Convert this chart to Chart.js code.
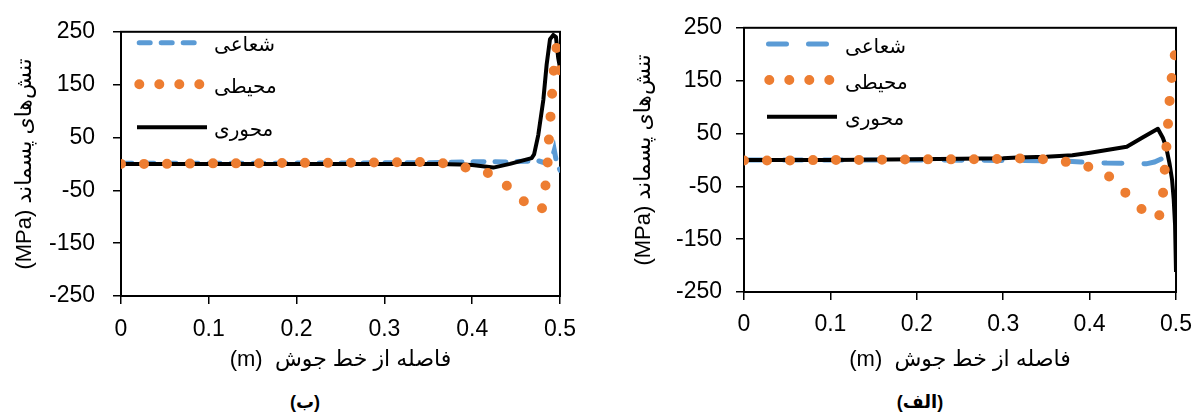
<!DOCTYPE html>
<html><head>
<meta charset="UTF-8">
<title>Residual stress</title>
<script src="https://cdn.jsdelivr.net/npm/chart.js"></script>
<style>
    body { margin: 0; background: #fff; font-family: "Liberation Sans", "DejaVu Sans", sans-serif; }
    #wrap { position: relative; width: 1203px; height: 415px; }
    canvas { position: absolute; top: 0; }
    .caption { position: absolute; top: 391px; width: 100px; text-align: center; font-weight: bold; font-size: 18px; color: #000; }
</style>
</head>
<body>
<div id="wrap">
    <canvas id="chartB" width="600" height="373" style="left:0"></canvas>
    <canvas id="chartA" width="603" height="373" style="left:600px"></canvas>
    <div class="caption" style="left:255px">(ب)</div>
    <div class="caption" style="left:870px">(الف)</div>
</div>
<script>
    // series names (legend)
    const seriesNames = ['شعاعی', 'محیطی', 'محوری'];
    const xTitle = '(m)  فاصله از خط جوش';
    const yTitle = '(MPa) تنش‌های پسماند';

    // chart (ب) - left
    const distB_radial = [0, 0.1, 0.2, 0.3, 0.35, 0.39, 0.42, 0.44, 0.46, 0.475, 0.485, 0.4905, 0.4935, 0.496, 0.5];
    const stressB_radial = [1, 1, 1.5, 2, 2, 3.5, 4.5, 3.5, 5, 6, 1, 8, 26, 3, -12];
    const distB_hoop = [0, 0.05, 0.1, 0.15, 0.2, 0.25, 0.3, 0.34, 0.37, 0.394, 0.42, 0.44, 0.459, 0.479, 0.483, 0.4856, 0.4875, 0.4905, 0.493, 0.496, 0.5];
    const stressB_hoop = [0, 0, 1, 1, 2, 2, 3, 3.5, 1, -7.5, -18, -42, -71, -89, -48, -7, 50, 120, 180, 220, 174];
    const distB_axial = [0, 0.1, 0.2, 0.3, 0.36, 0.386, 0.40, 0.424, 0.443, 0.4677, 0.4705, 0.4753, 0.481, 0.4848, 0.4886, 0.4924, 0.4954, 0.498, 0.5];
    const stressB_axial = [0, 0, 0, 0, 0, -1, -2, -7, 0, 11, 18, 55, 121, 188, 236, 244, 240, 200, 182];

    // chart (الف) - right
    const distA_radial = [0, 0.1, 0.2, 0.3, 0.37, 0.39, 0.42, 0.443, 0.4656, 0.475, 0.486, 0.5];
    const stressA_radial = [0, 0, 0, -1, -2, -4, -6, -6.5, -7.5, -4, 4, -15];
    const distA_hoop = [0, 0.05, 0.1, 0.15, 0.2, 0.25, 0.3, 0.322, 0.348, 0.374, 0.4, 0.4235, 0.442, 0.4607, 0.48, 0.4847, 0.4866, 0.4885, 0.4904, 0.492, 0.4943, 0.4969, 0.4995];
    const stressA_hoop = [-1, -1, 0, 0, 1, 1, 2, 3, 1, -4, -13.5, -32, -63, -94, -111, -69, -26.5, 15.6, 58.7, 102, 144, 186.5, 205];
    const distA_axial = [0, 0.1, 0.2, 0.25, 0.3, 0.3165, 0.35, 0.38, 0.4006, 0.443, 0.4618, 0.479, 0.4847, 0.4885, 0.4924, 0.4954, 0.4973, 0.4989, 0.5];
    const stressA_axial = [0, 0, 1, 2, 3, 4.4, 6, 9, 13.7, 24.8, 43, 59, 42, 25, -6, -37, -74, -123, -212];

    const FONT = '"Liberation Sans", "DejaVu Sans", sans-serif';
    const pts = (xs, ys) => xs.map((x, i) => ({ x: x, y: ys[i] }));

    // legend drawn inside the plot area
    const insideLegend = {
        id: 'insideLegend',
        afterDraw(chart, args, opts) {
            const ctx = chart.ctx;
            chart.data.datasets.forEach((ds, i) => {
                const r = opts.rows[i];
                ctx.save();
                ctx.strokeStyle = ds.borderColor;
                ctx.lineWidth = ds.borderWidth;
                ctx.lineCap = ds.borderCapStyle || 'butt';
                ctx.setLineDash(opts.dashes[i] || []);
                ctx.beginPath();
                ctx.moveTo(r.x0, r.y);
                ctx.lineTo(r.x1, r.y);
                ctx.stroke();
                ctx.restore();
                ctx.save();
                ctx.fillStyle = '#000';
                ctx.font = opts.font;
                ctx.textAlign = 'left';
                ctx.textBaseline = 'middle';
                ctx.fillText(ds.label, opts.textX, r.y + opts.textDy);
                ctx.restore();
            });
        }
    };

    const plotFrame = {
        id: 'plotFrame',
        beforeDatasetsDraw(chart) {
            const { ctx, chartArea: a } = chart;
            ctx.save();
            ctx.strokeStyle = '#000';
            ctx.lineWidth = 2;
            ctx.strokeRect(a.left, a.top, a.right - a.left, a.bottom - a.top);
            ctx.restore();
        }
    };

    function makeChart(id, c) {
        new Chart(document.getElementById(id), {
            type: 'line',
            data: {
                datasets: [
                    { label: seriesNames[0], data: pts(c.radial[0], c.radial[1]), borderColor: '#5B9BD5',
                      borderWidth: 5, borderDash: c.radialDash, borderCapStyle: 'round', order: 3 },
                    { label: seriesNames[1], data: pts(c.hoop[0], c.hoop[1]), borderColor: '#ED7D31',
                      borderWidth: 10, borderDash: [0, 23], borderCapStyle: 'round', order: 1 },
                    { label: seriesNames[2], data: pts(c.axial[0], c.axial[1]), borderColor: '#000',
                      borderWidth: 4, borderJoinStyle: 'round', order: 2 }
                ]
            },
            options: {
                responsive: false,
                animation: false,
                layout: { padding: { left: 0, right: c.padRight, top: c.padTop, bottom: 0 } },
                elements: { point: { radius: 0 }, line: { tension: 0 } },
                plugins: {
                    legend: { display: false },
                    tooltip: { enabled: false },
                    insideLegend: c.legend
                },
                scales: {
                    x: {
                        type: 'linear', min: 0, max: 0.5,
                        ticks: { stepSize: 0.1, color: '#000', padding: c.xTickPad, font: { family: FONT, size: 23 } },
                        grid: { drawOnChartArea: false, tickLength: 8, color: '#000', lineWidth: 1.5 },
                        border: { color: '#000', width: 2 },
                        title: { display: true, text: xTitle, color: '#000', padding: 0, font: { family: FONT, size: 22 } },
                        afterFit(s) { s.height = c.xHeight; }
                    },
                    y: {
                        min: -250, max: 250,
                        ticks: { stepSize: 100, color: '#000', padding: c.yTickPad, font: { family: FONT, size: 23 } },
                        grid: { drawOnChartArea: false, tickLength: 8, color: '#000', lineWidth: 1.5 },
                        border: { color: '#000', width: 2 },
                        title: { display: true, text: yTitle, color: '#000', padding: { top: c.yTitlePad, bottom: 0 }, font: { family: FONT, size: 22 } },
                        afterFit(s) { s.width = c.yWidth; }
                    }
                }
            },
            plugins: [plotFrame, insideLegend]
        });
    }

    makeChart('chartB', {
        radial: [distB_radial, stressB_radial],
        hoop: [distB_hoop, stressB_hoop],
        axial: [distB_axial, stressB_axial],
        radialDash: [11, 11],
        padTop: 21, padRight: 40, xHeight: 77, yWidth: 121,
        xTickPad: 12, yTickPad: 18, yTitlePad: 12,
        legend: {
            rows: [{ x0: 139.2, x1: 196.2, y: 42.7 }, { x0: 139.3, x1: 200, y: 84.3 }, { x0: 137, x1: 207, y: 127.3 }],
            dashes: [[11, 11], [0, 20], []],
            textX: 214, textDy: 3, font: '20px ' + FONT
        }
    });

    makeChart('chartA', {
        radial: [distA_radial, stressA_radial],
        hoop: [distA_hoop, stressA_hoop],
        axial: [distA_axial, stressA_axial],
        radialDash: [18, 22],
        padTop: 22, padRight: 23, xHeight: 81, yWidth: 144,
        xTickPad: 11, yTickPad: 14, yTitlePad: 31,
        legend: {
            rows: [{ x0: 168.5, x1: 226.5, y: 44 }, { x0: 169.3, x1: 230, y: 80 }, { x0: 167, x1: 237, y: 116.7 }],
            dashes: [[18, 22], [0, 20], []],
            textX: 245, textDy: 3, font: '20px ' + FONT
        }
    });
</script>
</body></html>
